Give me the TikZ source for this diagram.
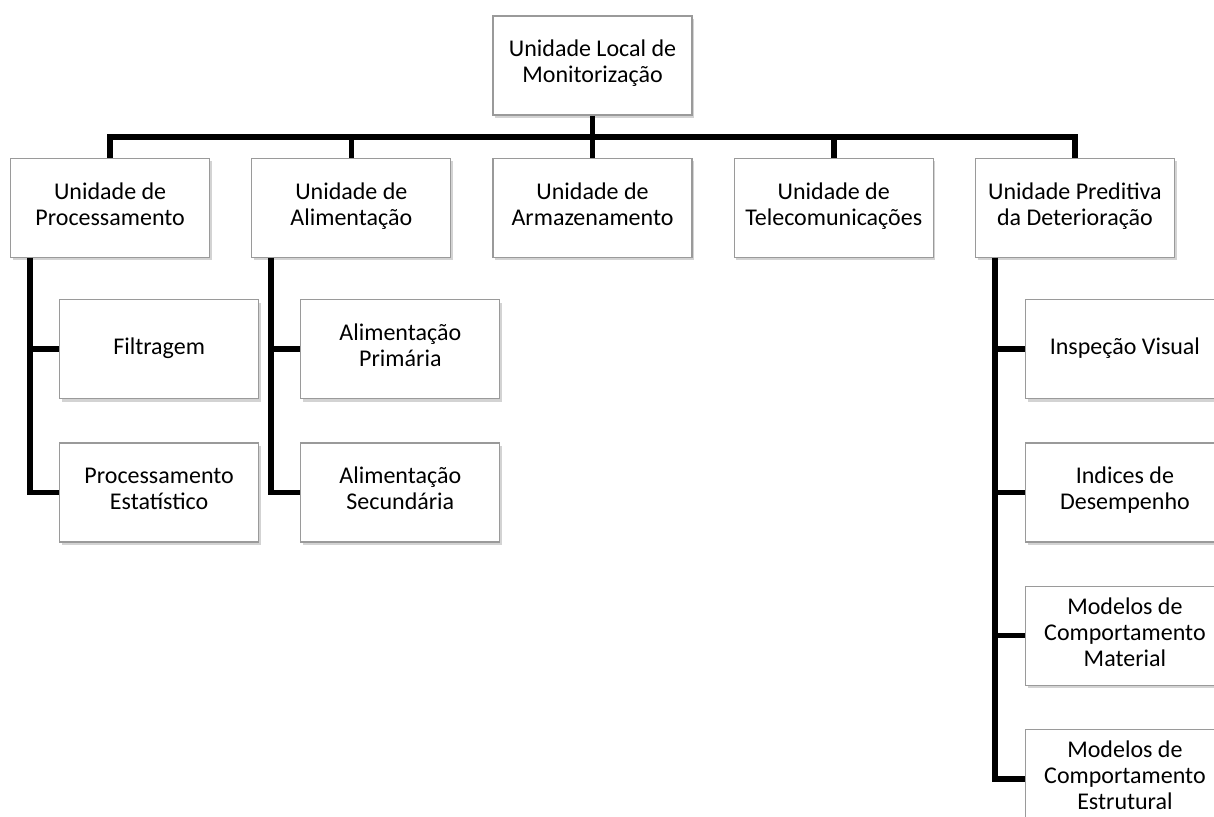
\documentclass[tikz,border=0pt]{standalone}
\usepackage{fontspec}
\setmainfont{Carlito}
\usepackage{xcolor}
\usepackage{tikz}
\usetikzlibrary{positioning,shadows}
\definecolor{edge}{HTML}{9A9A9A}
\definecolor{shade}{HTML}{808080}
\tikzset{
  unit/.style={draw=edge, line width=0.9pt, fill=white, align=center,
               minimum width=149.25pt, minimum height=74.25pt, inner sep=2pt,
               font=\fontsize{18}{19.5}\selectfont,
               execute at begin node=\strut, execute at end node=\strut,
               drop shadow={shadow xshift=1.6pt, shadow yshift=-2.2pt,
                            fill=shade, opacity=0.35}},
  link/.style={line width=4.2pt, color=black},
}

\begin{document}
\begin{tikzpicture}
\useasboundingbox (0,0) rectangle (910.5pt,-612.75pt);

% --- topo ---
\node[unit] (root) at (444.4pt,-49.1pt) {Unidade Local de\\Monitorização};

% --- unidades ---
\node[unit] (arm) [below=31.5pt of root]  {Unidade de\\Armazenamento};
\node[unit] (ali) [left=30.75pt of arm]   {Unidade de\\Alimentação};
\node[unit] (pro) [left=30.75pt of ali]   {Unidade de\\Processamento};
\node[unit] (tel) [right=30.75pt of arm]  {Unidade de\\Telecomunicações};
\node[unit] (det) [right=30.75pt of tel]  {Unidade Preditiva\\da Deterioração};

\coordinate (hub) at ([yshift=-16pt]root.south);
\draw[link] (root.south) -- (hub);
\foreach \u in {pro,ali,arm,tel,det}
  \draw[link] (\u.north) |- (hub);

% --- processamento ---
\node[unit] (fil) [below right=31pt and 36.75pt of pro.south west] {Filtragem};
\node[unit] (est) [below=32.25pt of fil] {Processamento\\Estatístico};
\coordinate (pb) at ([xshift=15pt]pro.south west);
\draw[link] (pb) |- (fil.west);
\draw[link] (pb) |- (est.west);

% --- alimentacao ---
\node[unit] (pri) [below right=31pt and 36.75pt of ali.south west] {Alimentação\\Primária};
\node[unit] (sec) [below=32.25pt of pri] {Alimentação\\Secundária};
\coordinate (ab) at ([xshift=15pt]ali.south west);
\draw[link] (ab) |- (pri.west);
\draw[link] (ab) |- (sec.west);

% --- deterioracao ---
\node[unit] (vis) [below right=31pt and 37.5pt of det.south west] {Inspeção Visual};
\node[unit] (ind) [below=32.25pt of vis] {Indices de\\Desempenho};
\node[unit] (mat) [below=32.25pt of ind] {Modelos de\\Comportamento\\Material};
\node[unit] (etr) [below=32.25pt of mat] {Modelos de\\Comportamento\\Estrutural};
\coordinate (db) at ([xshift=15pt]det.south west);
\foreach \c in {vis,ind,mat,etr}
  \draw[link] (db) |- (\c.west);

\end{tikzpicture}
\end{document}
